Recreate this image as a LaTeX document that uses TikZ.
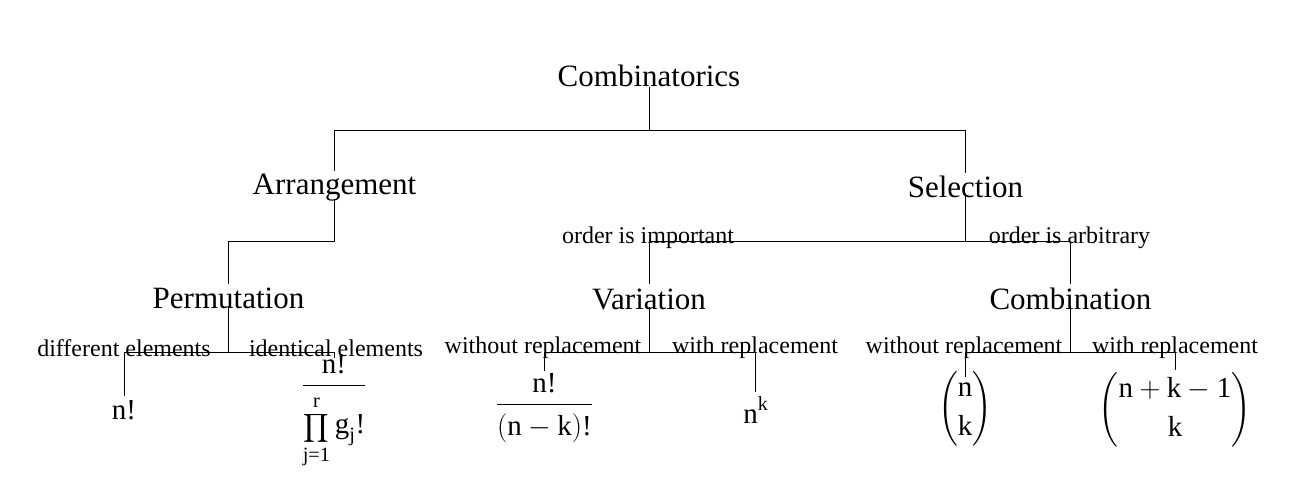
\RequirePackage{fix-cm}
\documentclass[tikz,border=0pt]{standalone}
\usepackage{amsmath}
\usepackage{graphicx}
\usepackage{fontspec}
\setmainfont{Liberation Serif}
\newcommand\bigfont{\fontsize{31}{37}\selectfont}
\newcommand\lblfont{\fontsize{24}{29}\selectfont}
\newcommand\frmfont{\fontsize{29}{35}\selectfont}
\newcommand\myprod{\mathop{\scalebox{0.8}{$\displaystyle\prod$}}}
\begin{document}
\begin{tikzpicture}[x=1pt,y=-1pt,
  big/.style={font=\bigfont, inner sep=0pt, anchor=base},
  lbl/.style={font=\lblfont, inner sep=0pt, anchor=base},
  frm/.style={font=\frmfont, inner sep=0pt, anchor=base},
  conn/.style={draw=black, line width=1pt}]
\fill[white] (0,0) rectangle (1300,483);
\useasboundingbox (0,0) rectangle (1300,483);
% main nodes
\node[big] (comb) at (649,86.5) {Combinatorics};
\node[big] (arr) at (334.5,194) {Arrangement};
\node[big] (sel) at (965.5,197.5) {Selection};
\node[big] (perm) at (228.5,308.5) {Permutation};
\node[big] (var) at (649,309) {Variation};
\node[big] (cmbn) at (1070.5,309) {Combination};
% labels
\node[lbl] (oi) at (648,243) {order is important};
\node[lbl] (oa) at (1069.5,243) {order is arbitrary};
\node[lbl] (de) at (124,356) {different elements};
\node[lbl] (ie) at (336,356) {identical elements};
\node[lbl] (wo1) at (543,353) {without replacement};
\node[lbl] (wi1) at (755,353) {with replacement};
\node[lbl] (wo2) at (964,353) {without replacement};
\node[lbl] (wi2) at (1175,353) {with replacement};
% formulas
\node[frm] (f1) at (124,419) {n!};
\node[frm] (f2) at (334,393) {$\dfrac{\text{n!}}{\raisebox{-6pt}[\height]{$\myprod\limits_{\text{j=1}}^{\text{r}}\text{g}_{\text{j}}\text{!}$}}$};
\node[frm] (f3) at (544.5,412) {$\dfrac{\text{n!}}{\raisebox{-4pt}[\height]{$(\text{n}-\text{k})\text{!}$}}$};
\node[frm] (f4) at (755.5,423) {n\raisebox{13pt}{\fontsize{20}{24}\selectfont k}};
\node[frm] (f5) at (965,416) {$\dbinom{\text{n}}{\text{k}}$};
\node[frm] (f6) at (1175,417) {$\dbinom{\text{n}+\text{k}-\text{1}}{\text{k}}$};
% connectors
\draw[conn] (comb.base) -- ++(0,43.5) coordinate (j0) -| ([yshift=23pt]arr.base);
\draw[conn] (j0) -| ([yshift=24.5pt]sel.base);
\draw[conn] ([yshift=-5pt]arr.base) -- ++(0,42) -| ([yshift=24.5pt]perm.base);
\draw[conn] ([yshift=2pt]perm.base) -- ++(0,45.5) coordinate (j2) -| ([yshift=23pt]f1.base);
\draw[conn] (j2) -| ([yshift=35pt]f2.base);
\draw[conn] ([yshift=1.5pt]sel.base) -- ++(0,45) coordinate (j1) -| ([yshift=25pt]var.base);
\draw[conn] (j1) -| ([yshift=25pt]cmbn.base);
\draw[conn] ([yshift=2pt]var.base) -- ++(0,45) coordinate (j3) -| ([yshift=41pt]f3.base);
\draw[conn] (j3) -| ([yshift=31pt]f4.base);
\draw[conn] ([yshift=3pt]cmbn.base) -- ++(0,46) coordinate (j4) -| ([yshift=39pt]f5.base);
\draw[conn] (j4) -| ([yshift=47pt]f6.base);
\end{tikzpicture}
\end{document}
